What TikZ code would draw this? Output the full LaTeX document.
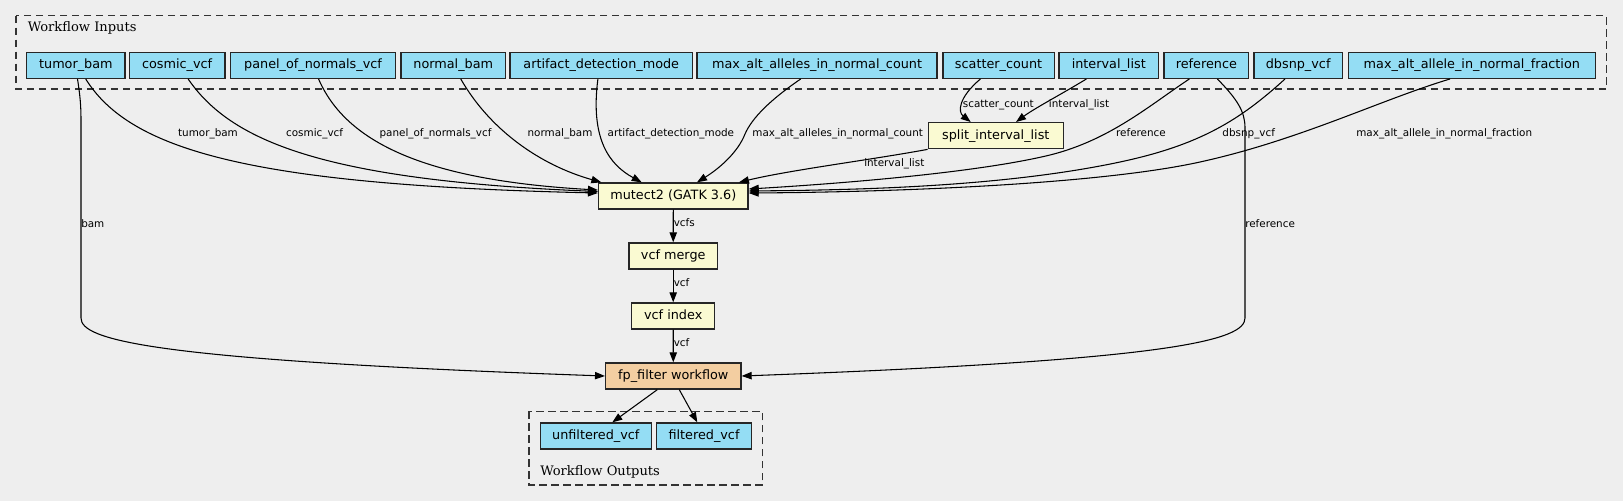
\documentclass[tikz,border=0pt]{standalone}
\usepackage{fontspec}
\setmainfont{DejaVu Sans}
\newfontfamily\ttlfont{DejaVu Serif}
\usetikzlibrary{arrows.meta,calc}
\definecolor{bgc}{HTML}{EEEEEE}
\definecolor{inc}{HTML}{94DDF4}
\definecolor{toolc}{HTML}{FAFAD2}
\definecolor{wfc}{HTML}{F3CEA1}
\definecolor{clc}{HTML}{333333}
\begin{document}
\begin{tikzpicture}[x=0.75pt,y=-0.75pt,
  box/.style={draw=black!85, line width=1pt, inner sep=0pt, minimum height=19.5pt,
    font=\fontsize{9.6}{11}\selectfont, text height=7pt, text depth=2pt},
  inbox/.style={box, fill=inc},
  toolbox/.style={box, fill=toolc},
  wfbox/.style={box, fill=wfc},
  cluster/.style={draw=clc, line width=1pt, dash pattern=on 5.5pt off 3.5pt},
  ttl/.style={font=\ttlfont\fontsize{9.8}{12}\selectfont, anchor=west, inner sep=0pt},
  lbl/.style={font=\fontsize{7.8}{9}\selectfont, inner sep=0pt, text height=5.5pt, text depth=1.5pt},
  lblw/.style={lbl, anchor=west},
  edge/.style={line width=0.8pt, -{Triangle[length=7.5pt,width=5.5pt]}}
]
\useasboundingbox (0,0) rectangle (1623,501);
\fill[bgc] (0,0) rectangle (1623,501);

% clusters
\draw[cluster] (16.1,15.7) rectangle (1606.3,89);
\node[ttl] (tin) at (27.5,27.7) {Workflow Inputs};
\draw[cluster] (529,411.3) rectangle (762.7,485);
\node[ttl] (tout) at (540,471.7) {Workflow Outputs};

% inputs
\node[inbox, minimum width=73.65pt] (tumor) at (75.9,65.3) {tumor\_bam};
\node[inbox, minimum width=71.8pt] (cosmic) at (177.15,65.3) {cosmic\_vcf};
\node[inbox, minimum width=124pt] (panel) at (313.05,65.3) {panel\_of\_normals\_vcf};
\node[inbox, minimum width=78.2pt] (normal) at (453.25,65.3) {normal\_bam};
\node[inbox, minimum width=136.9pt] (artifact) at (601.25,65.3) {artifact\_detection\_mode};
\node[inbox, minimum width=180pt] (maxalleles) at (817.1,65.3) {max\_alt\_alleles\_in\_normal\_count};
\node[inbox, minimum width=83.55pt] (scatter) at (998.6,65.3) {scatter\_count};
\node[inbox, minimum width=74.8pt] (interval) at (1108.75,65.3) {interval\_list};
\node[inbox, minimum width=63.4pt] (reference) at (1206.35,65.3) {reference};
\node[inbox, minimum width=66.5pt] (dbsnp) at (1298.15,65.3) {dbsnp\_vcf};
\node[inbox, minimum width=185.1pt] (maxfrac) at (1471.8,65.3) {max\_alt\_allele\_in\_normal\_fraction};

% tools
\node[toolbox, minimum width=101.25pt] (split) at (995.8,135.7) {split\_interval\_list};
\node[toolbox, minimum width=112.1pt] (mutect) at (673.3,196) {mutect2 (GATK 3.6)};
\node[toolbox, minimum width=66.2pt] (merge) at (673.2,256) {vcf merge};
\node[toolbox, minimum width=62.25pt] (index) at (673.2,316) {vcf index};
\node[wfbox, minimum width=101.5pt] (fp) at (673.3,376) {fp\_filter workflow};

% outputs
\node[inbox, minimum width=83.25pt] (unfilt) at (595.8,436) {unfiltered\_vcf};
\node[inbox, minimum width=71.55pt] (filt) at (704,436) {filtered\_vcf};

% edges into mutect2 from the left
\draw[edge] ($(tumor.south)+(9.8,0)$) .. controls (130,150) and (250,185) .. ($(mutect.west)+(0,-3)$);
\draw[edge] ($(cosmic.south)+(11,0)$) .. controls (230,140) and (320,180) .. ($(mutect.west)+(0,-4.5)$);
\draw[edge] ($(panel.south)+(5.5,0)$) .. controls (345,140) and (420,180) .. ($(mutect.west)+(0,-6)$);
\draw[edge] ($(normal.south)+(7.5,0)$) .. controls (490,130) and (540,165) .. ($(mutect.north west)+(3.45,0)$);
\draw[edge] ($(artifact.south)+(-3.35,0)$) .. controls (590,140) and (610,165) .. ($(mutect.north)+(-31.6,0)$);
\draw[edge] ($(maxalleles.south)+(-16.4,0)$) .. controls (770,100) and (752,118) .. (745,134)
   .. controls (738,152) and (720,168) .. ($(mutect.north)+(23.7,0)$);

% split interval list
\draw[edge] ($(scatter.south)+(-18.2,0)$) .. controls (958,98) and (958,112) .. ($(split.north)+(-25.1,0)$);
\draw[edge] ($(interval.south)+(-22.35,0)$) .. controls (1060,95) and (1035,108) .. ($(split.north)+(20.2,0)$);
\draw[edge] (split.south west) .. controls (870,160) and (790,170) .. ($(mutect.north east)+(-9.75,0)$);

% edges into mutect2 from the right
\draw[edge] ($(reference.south)+(-17,0)$) .. controls (1150,105) and (1110,140) .. (1050,155)
   .. controls (980,172) and (850,183) .. ($(mutect.east)+(0,-7)$);
\draw[edge] ($(dbsnp.south)+(-13.15,0)$) .. controls (1240,120) and (1200,145) .. (1120,162)
   .. controls (1000,187.5) and (850,190) .. ($(mutect.east)+(0,-5)$);
\draw[edge] ($(maxfrac.south)+(-21.8,0)$) .. controls (1380,100) and (1300,140) .. (1200,162)
   .. controls (1100,184) and (900,192) .. ($(mutect.east)+(0,-3)$);

% long edges into fp_filter
\draw[edge] ($(tumor.south)+(1.6,0)$) .. controls (80,95) and (81,105) .. (81,120) -- (81,318)
   .. controls (81,340) and (150,360) .. (fp.west);
\draw[edge] ($(reference.south)+(11,0)$) .. controls (1238,100) and (1245,112) .. (1245,128) -- (1245,318)
   .. controls (1245,340) and (1176,360) .. (fp.east);

% chain
\draw[edge] (mutect) -- (merge);
\draw[edge] (merge) -- (index);
\draw[edge] (index) -- (fp);
\draw[edge] ($(fp.south)+(-16,0)$) -- ($(unfilt.north)+(16.5,0)$);
\draw[edge] ($(fp.south)+(6,0)$) -- ($(filt.north)+(-6.7,0)$);

% edge labels
\node[lbl] (l1) at (208,134.3) {tumor\_bam};
\node[lbl] (l2) at (314.6,134.3) {cosmic\_vcf};
\node[lbl] (l3) at (435.5,134.3) {panel\_of\_normals\_vcf};
\node[lbl] (l4) at (560,134.3) {normal\_bam};
\node[lbl] (l5) at (670.9,134.3) {artifact\_detection\_mode};
\node[lbl] (l6) at (837.7,134.3) {max\_alt\_alleles\_in\_normal\_count};
\node[lbl] (l7) at (998.3,104.7) {scatter\_count};
\node[lbl] (l8) at (1079,104.7) {interval\_list};
\node[lbl] (l9) at (894.3,164) {interval\_list};
\node[lbl] (l10) at (1141,134.3) {reference};
\node[lbl] (l11) at (1248.7,134.3) {dbsnp\_vcf};
\node[lbl] (l12) at (1444.2,134.3) {max\_alt\_allele\_in\_normal\_fraction};
\node[lblw] (l13) at (81,225) {bam};
\node[lblw] (l14) at (1245,225) {reference};
\node[lblw] (l15) at (673.5,224.3) {vcfs};
\node[lblw] (l16) at (673.5,284.3) {vcf};
\node[lblw] (l17) at (673.5,344.3) {vcf};
\end{tikzpicture}
\end{document}
